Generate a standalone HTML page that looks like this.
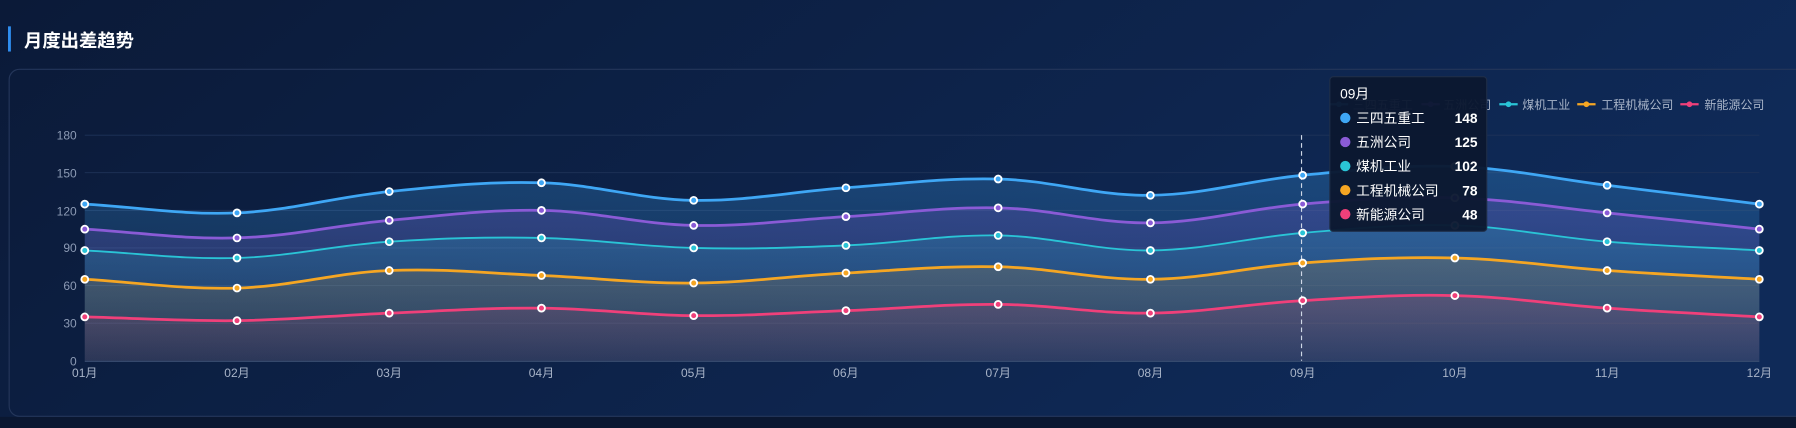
<!DOCTYPE html>
<html><head><meta charset="utf-8"><style>
html,body{margin:0;padding:0;width:1796px;height:428px;overflow:hidden;background:#0b1a38;}
svg{display:block}
text{font-family:"Liberation Sans","Noto Sans CJK SC",sans-serif;}
</style></head><body>
<svg id="s" width="1796" height="428" viewBox="0 0 1568 373.7" preserveAspectRatio="none" xmlns="http://www.w3.org/2000/svg">
<defs>
<linearGradient id="bg" x1="0" y1="0" x2="1" y2="0.3">
<stop offset="0" stop-color="#0b1a38"/><stop offset="1" stop-color="#0f2a58"/></linearGradient>
<linearGradient id="g0" x1="0" y1="118" x2="0" y2="315" gradientUnits="userSpaceOnUse"><stop offset="0" stop-color="#3fa7f5" stop-opacity="0.3"/><stop offset="1" stop-color="#3fa7f5" stop-opacity="0.05"/></linearGradient>
<linearGradient id="g1" x1="0" y1="118" x2="0" y2="315" gradientUnits="userSpaceOnUse"><stop offset="0" stop-color="#8a5bd6" stop-opacity="0.3"/><stop offset="1" stop-color="#8a5bd6" stop-opacity="0.05"/></linearGradient>
<linearGradient id="g2" x1="0" y1="118" x2="0" y2="315" gradientUnits="userSpaceOnUse"><stop offset="0" stop-color="#2ac4d6" stop-opacity="0.3"/><stop offset="1" stop-color="#2ac4d6" stop-opacity="0.05"/></linearGradient>
<linearGradient id="g3" x1="0" y1="118" x2="0" y2="315" gradientUnits="userSpaceOnUse"><stop offset="0" stop-color="#f5a623" stop-opacity="0.3"/><stop offset="1" stop-color="#f5a623" stop-opacity="0.05"/></linearGradient>
<linearGradient id="g4" x1="0" y1="118" x2="0" y2="315" gradientUnits="userSpaceOnUse"><stop offset="0" stop-color="#f0407a" stop-opacity="0.35"/><stop offset="1" stop-color="#f0407a" stop-opacity="0.05"/></linearGradient>
</defs>
<rect width="1568" height="373.7" fill="url(#bg)"/>
<rect x="0" y="364" width="1568" height="10" fill="#0a1731"/>
<rect x="7" y="23" width="2.5" height="22" fill="#2f8ef0"/>
<text x="21" y="41" font-size="16" font-weight="bold" fill="#fff">月度出差趋势</text>
<rect x="8" y="60.5" width="1580" height="303" rx="9" fill="none" stroke="#24365a" stroke-width="1"/>
<g font-size="10.5" fill="#8d9bb5" text-anchor="end">
<text x="67" y="319">0</text><text x="67" y="286">30</text><text x="67" y="253">60</text><text x="67" y="220">90</text><text x="67" y="188">120</text><text x="67" y="155">150</text><text x="67" y="122">180</text>
</g>
<g stroke="#1f3358" stroke-width="0.8">
<line x1="74" x2="1536" y1="282.2" y2="282.2"/><line x1="74" x2="1536" y1="249.3" y2="249.3"/><line x1="74" x2="1536" y1="216.5" y2="216.5"/><line x1="74" x2="1536" y1="183.7" y2="183.7"/><line x1="74" x2="1536" y1="150.8" y2="150.8"/><line x1="74" x2="1536" y1="118" y2="118"/>
</g>
<g id="areas"></g>
<line x1="74" x2="1536" y1="315.5" y2="315.5" stroke="#3b4f72" stroke-width="1"/>
<line x1="1136.3" x2="1136.3" y1="118" y2="315" stroke="#cfd8e6" stroke-width="1" stroke-dasharray="4,3"/>
<g id="lines"></g>
<g font-size="10.5" fill="#a8b4c8" text-anchor="middle" id="xl">
<text x="74" y="329">01月</text><text x="206.9" y="329">02月</text><text x="339.8" y="329">03月</text><text x="472.7" y="329">04月</text><text x="605.6" y="329">05月</text><text x="738.5" y="329">06月</text><text x="871.5" y="329">07月</text><text x="1004.4" y="329">08月</text><text x="1137.3" y="329">09月</text><text x="1270.2" y="329">10月</text><text x="1403.1" y="329">11月</text><text x="1536" y="329">12月</text>
</g>
<g font-size="10.5" fill="#a8b4c8">
<line x1="1161" x2="1177" y1="91" y2="91" stroke="#3fa7f5" stroke-width="2"/><circle cx="1169" cy="91" r="2.5" fill="#3fa7f5"/><text x="1181" y="95">三四五重工</text>
<line x1="1241" x2="1257" y1="91" y2="91" stroke="#8a5bd6" stroke-width="2"/><circle cx="1249" cy="91" r="2.5" fill="#8a5bd6"/><text x="1260" y="95">五洲公司</text>
<line x1="1309" x2="1325" y1="91" y2="91" stroke="#2ac4d6" stroke-width="2"/><circle cx="1317" cy="91" r="2.5" fill="#2ac4d6"/><text x="1329" y="95">煤机工业</text>
<line x1="1377" x2="1393" y1="91" y2="91" stroke="#f5a623" stroke-width="2"/><circle cx="1385" cy="91" r="2.5" fill="#f5a623"/><text x="1398" y="95">工程机械公司</text>
<line x1="1467" x2="1483" y1="91" y2="91" stroke="#f0407a" stroke-width="2"/><circle cx="1475" cy="91" r="2.5" fill="#f0407a"/><text x="1488" y="95">新能源公司</text>
</g>
<g>
<rect x="1161" y="67" width="137" height="135" rx="3" fill="#0b1830" fill-opacity="0.96" stroke="#1f2e48" stroke-width="1"/>
<text x="1170" y="86" font-size="12" fill="#fff">09月</text>
<g font-size="12" fill="#fff">
<circle cx="1174.5" cy="103" r="4.5" fill="#3fa7f5"/><text x="1184" y="107.5">三四五重工</text><text x="1290" y="107.5" text-anchor="end" font-weight="bold">148</text>
<circle cx="1174.5" cy="124" r="4.5" fill="#8a5bd6"/><text x="1184" y="128.5">五洲公司</text><text x="1290" y="128.5" text-anchor="end" font-weight="bold">125</text>
<circle cx="1174.5" cy="145" r="4.5" fill="#2ac4d6"/><text x="1184" y="149.5">煤机工业</text><text x="1290" y="149.5" text-anchor="end" font-weight="bold">102</text>
<circle cx="1174.5" cy="166" r="4.5" fill="#f5a623"/><text x="1184" y="170.5">工程机械公司</text><text x="1290" y="170.5" text-anchor="end" font-weight="bold">78</text>
<circle cx="1174.5" cy="187" r="4.5" fill="#f0407a"/><text x="1184" y="191.5">新能源公司</text><text x="1290" y="191.5" text-anchor="end" font-weight="bold">48</text>
</g></g>
</svg>
<script>
var data=[
[125,118,135,142,128,138,145,132,148,155,140,125],
[105,98,112,120,108,115,122,110,125,130,118,105],
[88,82,95,98,90,92,100,88,102,108,95,88],
[65,58,72,68,62,70,75,65,78,82,72,65],
[35,32,38,42,36,40,45,38,48,52,42,35]];
var cols=["#3fa7f5","#8a5bd6","#2ac4d6","#f5a623","#f0407a"];
var widths=[2.4,2.4,1.6,2.4,2.4];
function X(i){return 74+i*132.909;}
function Y(v){return 315-v*197/180;}
function path(d){
 var p=d.map(function(v,i){return [X(i),Y(v)];});
 var s="M"+p[0][0]+","+p[0][1];
 for(var i=0;i<p.length-1;i++){
  var p0=p[Math.max(i-1,0)],p1=p[i],p2=p[i+1],p3=p[Math.min(i+2,p.length-1)];
  var t=0.18;
  var c1=[p1[0]+(p2[0]-p0[0])*t,p1[1]+(p2[1]-p0[1])*t];
  var c2=[p2[0]-(p3[0]-p1[0])*t,p2[1]-(p3[1]-p1[1])*t];
  if(i==0){c1=[p1[0]+(p2[0]-p1[0])*0.36,p1[1]+(p2[1]-p1[1])*0.36];}
  if(i==p.length-2){c2=[p2[0]-(p2[0]-p1[0])*0.36,p2[1]-(p2[1]-p1[1])*0.36];}
  s+=" C"+c1[0]+","+c1[1]+" "+c2[0]+","+c2[1]+" "+p2[0]+","+p2[1];
 }
 return s;
}
var NS="http://www.w3.org/2000/svg";
var A=document.getElementById("areas"),L=document.getElementById("lines");
data.forEach(function(d,k){
 var s=path(d);
 var a=document.createElementNS(NS,"path");
 a.setAttribute("d",s+" L1536,315 L74,315 Z");a.setAttribute("fill","url(#g"+k+")");A.appendChild(a);
});
data.forEach(function(d,k){
 var l=document.createElementNS(NS,"path");
 l.setAttribute("d",path(d));l.setAttribute("fill","none");l.setAttribute("stroke",cols[k]);l.setAttribute("stroke-width",widths[k]);L.appendChild(l);
 d.forEach(function(v,i){
  var c=document.createElementNS(NS,"circle");
  c.setAttribute("cx",X(i));c.setAttribute("cy",Y(v));c.setAttribute("r",3);
  c.setAttribute("fill",cols[k]);c.setAttribute("stroke","#fff");c.setAttribute("stroke-width",1.6);L.appendChild(c);
 });
});
</script>
</body></html>
